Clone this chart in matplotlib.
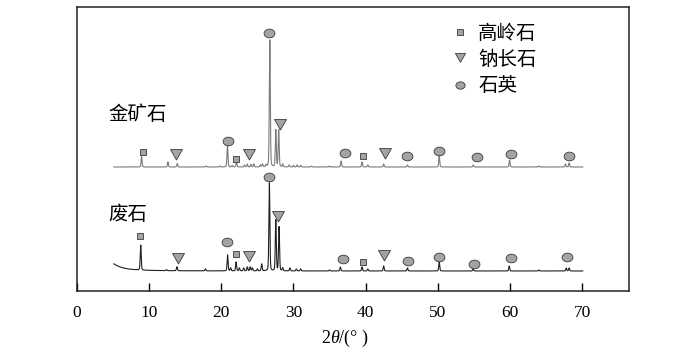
import numpy as np
import matplotlib
matplotlib.use("Agg")
import matplotlib.pyplot as plt
from matplotlib.path import Path
from matplotlib.transforms import Affine2D
from matplotlib.lines import Line2D

plt.rcParams["font.family"] = ["Liberation Serif", "Noto Sans CJK SC"]
plt.rcParams["mathtext.fontset"] = "custom"
plt.rcParams["mathtext.it"] = "Liberation Serif:italic"
plt.rcParams["mathtext.rm"] = "Liberation Serif"

# --- data: peaks (2theta, height above baseline) ---
ore_base = 124.0
ore_pos = [8.95, 12.6, 13.9, 17.9, 19.8, 20.85, 21.5, 22.1, 23.2, 23.6, 24.1, 24.5,
           25.4, 25.7, 26.2, 26.72, 27.55, 27.95, 28.5, 29.4, 30.0, 30.5, 31.0,
           32.5, 35.0, 36.6, 39.5, 40.3, 42.5, 45.8, 50.2, 54.9, 59.95, 64.0,
           67.7, 68.2]
ore_h = [10.5, 5, 3.5, 1, 1, 22, 1.5, 5, 2, 3, 2.5, 3,
         2, 3, 2, 127, 37, 37, 3, 2, 1.5, 2, 1.5,
         1, 1, 6, 5, 2, 3, 2, 11, 2, 7, 1,
         3, 4]

waste_base = 20.0
waste_pos = [8.83, 12.4, 13.85, 17.8, 20.87, 21.3, 22.05, 22.5, 23.1, 23.6, 24.0, 24.3,
             25.0, 25.6, 26.66, 27.55, 28.0, 28.5, 29.5, 30.4, 31.0, 35.0, 36.5,
             39.5, 40.3, 42.5, 45.8, 50.2, 54.9, 59.9, 64.0, 67.8, 68.2]
waste_h = [25, 1, 4, 2, 16, 3, 9, 3, 3, 4, 4, 3,
           2, 7, 88, 51, 44, 3, 3, 2, 2, 1, 4,
           4, 2, 5, 3, 9, 2, 5, 1, 3, 3]
waste_hump = (4.0, 11.0, 1.5)  # low-angle background: centre, height, width

# phase markers (2theta, y) for each pattern
ore_kaolinite = ([9.2, 22.0, 39.6], [139, 132, 135])
ore_albite = ([13.7, 23.8, 28.1, 42.75], [136, 136, 166, 137])
ore_quartz = ([20.9, 26.65, 37.2, 45.7, 50.2, 55.5, 60.2, 68.2],
              [150, 258, 138, 135, 140, 134, 137, 135])

waste_kaolinite = ([8.75, 22.0, 39.6], [55, 37, 29])
waste_albite = ([13.95, 23.8, 27.9, 42.5], [32, 34, 74, 35])
waste_quartz = ([20.75, 26.65, 36.8, 45.9, 50.2, 54.95, 60.1, 67.9],
                [49, 114, 32, 30, 34, 27, 33, 34])

phase_names = ["高岭石", "钠长石", "石英"]
sample_names = ["金矿石", "废石"]
xticks = [0, 10, 20, 30, 40, 50, 60, 70]


def pattern(x, pos, h, base, width=0.07):
    y = np.full_like(x, base)
    for p, a in zip(pos, h):
        g = np.exp(-0.5 * ((x - p) / width) ** 2)
        l = 1.0 / (1.0 + ((x - p) / width) ** 2)
        y += a * (0.7 * g + 0.3 * l)
    return y


x = np.arange(5.1, 70.1, 0.01)
y_ore = pattern(x, ore_pos, ore_h, ore_base)
y_waste = pattern(x, waste_pos, waste_h, waste_base)
c, a, w = waste_hump
y_waste += a / (1.0 + ((x - c) / w) ** 2)

ellipse = Path.unit_circle().transformed(Affine2D().scale(1.0, 0.8))
tri = Path([(-1, 1), (1, 1), (0, -0.75), (-1, 1)],
           [Path.MOVETO, Path.LINETO, Path.LINETO, Path.CLOSEPOLY])
fill = "#a3a3a3"
edge = "#3a3a3a"
styles = [dict(marker="s", ms=4.8), dict(marker=tri, ms=8.6), dict(marker=ellipse, ms=7.8)]

fig = plt.figure(figsize=(7.0, 3.58), dpi=100)
ax = fig.add_axes([0.11, 0.1872, 0.7886, 0.7932])

ax.plot(x, y_ore, color="#7a7a7a", lw=0.8)
ax.plot(x, y_waste, color="#202020", lw=0.8)

for groups in [(ore_kaolinite, ore_albite, ore_quartz),
               (waste_kaolinite, waste_albite, waste_quartz)]:
    for (px, py), st in zip(groups, styles):
        ax.plot(px, py, ls="none", mfc=fill, mec=edge, mew=0.6, **st)

handles = [Line2D([], [], ls="none", mfc=fill, mec=edge, mew=0.6, **st) for st in styles]
leg = ax.legend(handles, phase_names, loc="upper left", bbox_to_anchor=(0.6757, 0.944),
                frameon=False, handlelength=1.0, handletextpad=0.45,
                labelspacing=0.27, borderpad=0, borderaxespad=0, markerscale=0.85,
                prop={"family": ["Noto Sans CJK SC"], "size": 14})

ax.text(4.4, 177, sample_names[0], fontsize=14, family=["Noto Sans CJK SC"], va="center")
ax.text(4.4, 76, sample_names[1], fontsize=14, family=["Noto Sans CJK SC"], va="center")

ax.set_xlim(0, 76.5)
ax.set_ylim(0, 284)
ax.set_xticks(xticks)
ax.set_yticks([])
ax.tick_params(axis="x", direction="in", length=5.8, width=1.0, labelsize=12.5, pad=10)
for s in ax.spines.values():
    s.set_linewidth(1.1)
    s.set_color("#222222")
ax.set_xlabel("2$\\mathit{\\theta}$/(° )", fontsize=13, labelpad=4)
ax.xaxis.set_label_coords(0.485, -0.13)

fig.savefig("out.png", dpi=100)
